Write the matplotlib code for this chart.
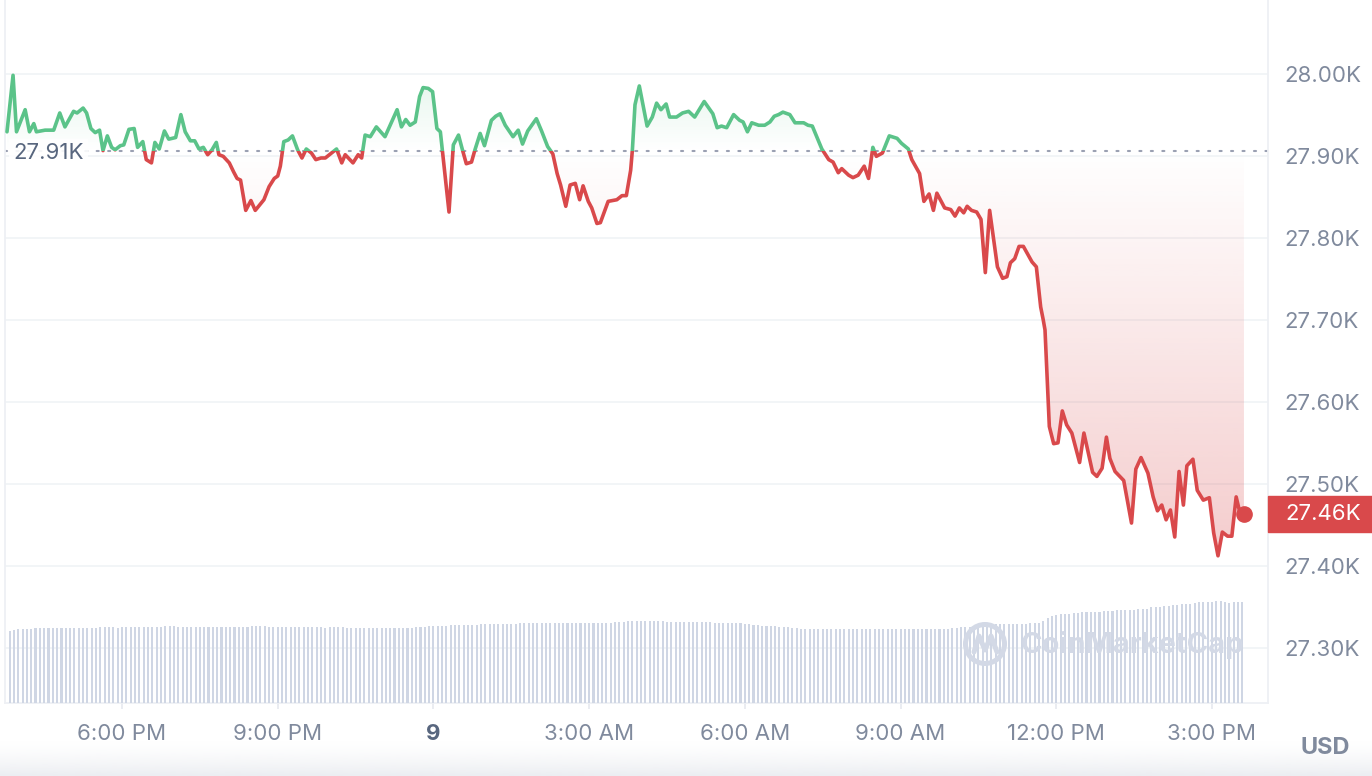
import numpy as np
import matplotlib
matplotlib.use("Agg")
import matplotlib.pyplot as plt
from matplotlib.patches import Rectangle, Circle
from matplotlib.path import Path
import matplotlib.transforms as mtransforms

plt.rcParams['font.family'] = ['Inter', 'DejaVu Sans']

# ---------------- data ----------------
# price samples: minutes since 6:00 PM (day 8) and BTC price in USD
price_minutes = [
    -133, -126, -122, -112, -107, -102, -99, -89, -79, -72,
    -66, -56, -52, -45, -41, -36, -31, -26, -22, -17,
    -12, -8, -2, 2, 8, 14, 18, 24, 28, 34,
    38, 43, 49, 54, 62, 68, 73, 79, 84, 89,
    94, 99, 104, 109, 112, 117, 124, 129, 133, 137,
    143, 149, 154, 164, 170, 176, 180, 183, 187, 192,
    197, 203, 208, 213, 219, 224, 230, 235, 248, 254,
    258, 267, 273, 277, 281, 287, 294, 304, 318, 323,
    328, 333, 339, 344, 348, 354, 359, 364, 368, 378,
    383, 389, 393, 398, 404, 408, 414, 419, 427, 432,
    437, 443, 452, 458, 463, 469, 479, 485, 492, 498,
    503, 507, 513, 518, 524, 529, 533, 539, 543, 549,
    553, 562, 572, 578, 583, 588, 590, 593, 598, 607,
    613, 618, 623, 629, 633, 641, 648, 655, 662, 673,
    683, 688, 693, 699, 707, 714, 718, 723, 728, 736,
    743, 749, 754, 759, 764, 772, 778, 788, 793, 798,
    809, 817, 822, 828, 832, 840, 845, 851, 858, 863,
    868, 872, 879, 887, 896, 901, 909, 913, 922, 927,
    933, 938, 942, 951, 958, 963, 968, 973, 977, 982,
    988, 993, 998, 1003, 1012, 1018, 1023, 1027, 1032, 1037,
    1042, 1052, 1057, 1062, 1065, 1067, 1072, 1077, 1082, 1087,
    1092, 1098, 1107, 1112, 1116, 1122, 1127, 1133, 1138, 1142,
    1148, 1158, 1167, 1172, 1178, 1186, 1192, 1197, 1202, 1207,
    1212, 1217, 1222, 1227, 1231, 1238, 1243, 1250, 1257, 1262,
    1267, 1272, 1278, 1283, 1288, 1292, 1297,
]
price_usd = [
    27930, 27999, 27930, 27957, 27930, 27940, 27930, 27932, 27932, 27953,
    27936, 27955, 27953, 27959, 27953, 27934, 27929, 27932, 27907, 27925,
    27911, 27908, 27913, 27914, 27933, 27934, 27911, 27918, 27896, 27892,
    27917, 27909, 27931, 27921, 27923, 27951, 27930, 27919, 27919, 27909,
    27911, 27902, 27908, 27917, 27902, 27900, 27892, 27881, 27873, 27871,
    27834, 27846, 27834, 27847, 27863, 27873, 27876, 27888, 27918, 27920,
    27925, 27908, 27898, 27909, 27904, 27896, 27898, 27898, 27909, 27892,
    27902, 27892, 27902, 27898, 27926, 27924, 27936, 27924, 27957, 27936,
    27945, 27938, 27942, 27973, 27984, 27983, 27979, 27934, 27930, 27832,
    27914, 27926, 27910, 27891, 27893, 27908, 27928, 27913, 27944, 27949,
    27952, 27938, 27924, 27932, 27915, 27931, 27946, 27931, 27912, 27903,
    27879, 27865, 27839, 27865, 27867, 27847, 27864, 27845, 27837, 27818,
    27819, 27845, 27847, 27852, 27852, 27883, 27908, 27963, 27986, 27937,
    27948, 27965, 27957, 27964, 27948, 27948, 27953, 27955, 27948, 27967,
    27952, 27935, 27937, 27935, 27951, 27944, 27942, 27930, 27941, 27938,
    27938, 27942, 27949, 27951, 27954, 27951, 27941, 27941, 27938, 27937,
    27909, 27896, 27893, 27880, 27885, 27877, 27874, 27877, 27888, 27873,
    27911, 27900, 27904, 27925, 27922, 27916, 27909, 27896, 27879, 27845,
    27854, 27834, 27855, 27837, 27835, 27827, 27837, 27831, 27839, 27834,
    27832, 27823, 27758, 27834, 27765, 27751, 27753, 27770, 27775, 27790,
    27790, 27771, 27765, 27716, 27700, 27688, 27570, 27549, 27550, 27589,
    27572, 27562, 27526, 27562, 27543, 27514, 27509, 27519, 27557, 27531,
    27515, 27504, 27452, 27518, 27532, 27513, 27484, 27467, 27474, 27456,
    27468, 27435, 27515, 27474, 27522, 27530, 27492, 27480, 27483, 27440,
    27412, 27441, 27436, 27436, 27484, 27466, 27463,
]
baseline_price = 27907
baseline_label = "27.91K"
last_label = "27.46K"

# 24h volume bars (billions USD), one every 5 minutes starting 130 min before 6 PM
vol_start_minute = -130
vol_step_minutes = 5
volume_bn = [
    14.4, 14.6, 14.8, 14.8, 14.9, 14.9, 15.0, 15.0, 15.0, 15.0,
    15.0, 15.0, 15.1, 15.0, 15.1, 15.1, 15.1, 15.0, 15.1, 15.1,
    15.1, 15.2, 15.2, 15.2, 15.2, 15.1, 15.2, 15.2, 15.2, 15.2,
    15.2, 15.2, 15.3, 15.3, 15.2, 15.3, 15.4, 15.4, 15.4, 15.3,
    15.2, 15.2, 15.2, 15.2, 15.2, 15.2, 15.2, 15.2, 15.2, 15.2,
    15.2, 15.2, 15.2, 15.2, 15.3, 15.3, 15.4, 15.4, 15.4, 15.4,
    15.3, 15.2, 15.2, 15.2, 15.2, 15.2, 15.2, 15.2, 15.2, 15.2,
    15.2, 15.2, 15.2, 15.1, 15.2, 15.2, 15.2, 15.2, 15.1, 15.1,
    15.1, 15.1, 15.1, 15.1, 15.1, 15.1, 15.1, 15.1, 15.1, 15.1,
    15.1, 15.1, 15.1, 15.1, 15.2, 15.3, 15.3, 15.4, 15.4, 15.5,
    15.5, 15.5, 15.6, 15.6, 15.6, 15.6, 15.7, 15.7, 15.7, 15.8,
    15.8, 15.8, 15.8, 15.9, 15.9, 15.9, 15.9, 15.9, 16.0, 16.0,
    16.0, 16.0, 16.0, 16.0, 16.0, 16.0, 16.0, 16.0, 16.0, 16.0,
    16.0, 16.0, 16.0, 16.0, 16.0, 16.0, 16.0, 16.1, 16.1, 16.1,
    16.2, 16.2, 16.3, 16.4, 16.4, 16.4, 16.4, 16.4, 16.4, 16.4,
    16.4, 16.4, 16.3, 16.3, 16.2, 16.2, 16.2, 16.2, 16.2, 16.2,
    16.2, 16.2, 16.2, 16.1, 16.1, 16.1, 16.0, 16.0, 16.0, 16.0,
    15.9, 15.8, 15.7, 15.6, 15.5, 15.5, 15.4, 15.4, 15.3, 15.3,
    15.2, 15.1, 15.0, 14.9, 14.8, 14.8, 14.8, 14.8, 14.8, 14.8,
    14.8, 14.8, 14.8, 14.8, 14.8, 14.8, 14.8, 14.8, 14.8, 14.8,
    14.8, 14.8, 14.8, 14.8, 14.8, 14.8, 14.8, 14.8, 14.8, 14.8,
    14.8, 14.8, 14.8, 14.8, 14.8, 14.8, 14.9, 14.9, 15.0, 15.1,
    15.2, 15.3, 15.3, 15.3, 15.4, 15.5, 15.6, 15.7, 15.8, 15.9,
    15.9, 15.9, 15.9, 15.9, 15.9, 15.9, 16.0, 16.0, 16.1, 16.4,
    17.1, 17.5, 17.7, 17.8, 17.9, 17.9, 18.0, 18.0, 18.2, 18.3,
    18.3, 18.3, 18.3, 18.4, 18.4, 18.5, 18.6, 18.6, 18.7, 18.7,
    18.7, 18.8, 18.8, 18.9, 19.2, 19.3, 19.3, 19.4, 19.5, 19.6,
    19.7, 19.8, 19.9, 19.9, 20.1, 20.2, 20.2, 20.3, 20.3, 20.4,
    20.4, 20.3, 20.1, 20.2, 20.2, 20.2,
]

price_ticks = [27300, 27400, 27500, 27600, 27700, 27800, 27900, 28000]
time_ticks = [0, 180, 360, 540, 720, 900, 1080, 1260]
time_labels = ["6:00 PM", "9:00 PM", "9", "3:00 AM", "6:00 AM", "9:00 AM",
               "12:00 PM", "3:00 PM"]

# ---------------- style ----------------
GREEN = "#5bc389"
RED = "#d9494b"
GRID = "#eff2f5"
TICK = "#808a9d"
DARK = "#58667e"
VOLC = "#cfd6e4"
FS = 16

W, H = 1372, 776
fig = plt.figure(figsize=(W / 100, H / 100), dpi=100)
fig.patch.set_facecolor("white")
ax = fig.add_axes([5 / W, 73 / H, 1263 / W, 703 / H])

t = np.array(price_minutes, dtype=float)
p = np.array(price_usd, dtype=float)
assert len(t) == len(p)

XMIN, XMAX = -135.3, 1324.8
YMIN, YMAX = 27232.2, 28091.0

# gridlines
for yv in price_ticks:
    ax.axhline(yv, color=GRID, lw=1.1, zorder=0)

# gradient fills
def grad_fill(up):
    if up:
        coll = ax.fill_between(t, p, baseline_price, where=p >= baseline_price,
                               interpolate=True, lw=0)
    else:
        coll = ax.fill_between(t, p, baseline_price, where=p <= baseline_price,
                               interpolate=True, lw=0)
    path = Path.make_compound_path(*coll.get_paths())
    coll.remove()
    n = 300
    img = np.zeros((n, 1, 4))
    if up:
        rgb = matplotlib.colors.to_rgb(GREEN)
        ys = np.linspace(baseline_price, YMAX, n)
        a = 0.16 * (ys - baseline_price) / 92.0
        extent = [XMIN, XMAX, baseline_price, YMAX]
    else:
        rgb = matplotlib.colors.to_rgb(RED)
        ys = np.linspace(YMIN, baseline_price, n)
        a = 0.28 * (baseline_price - ys) / 495.0
        extent = [XMIN, XMAX, YMIN, baseline_price]
    img[:, 0, 0], img[:, 0, 1], img[:, 0, 2] = rgb
    img[:, 0, 3] = np.clip(a, 0, 1)
    im = ax.imshow(img, extent=extent, origin="lower", aspect="auto",
                   interpolation="bilinear", zorder=1)
    im.set_clip_path(path, transform=ax.transData)

grad_fill(True)
grad_fill(False)

# baseline dotted line
ax.axhline(baseline_price, color="#9aa0b2", lw=1.5, ls=(0, (1, 4.5)),
           dash_capstyle="round", zorder=2)

# price line, green above / red below baseline
big = 1e5
clip_up = Rectangle((XMIN - 1000, baseline_price), big, big, transform=ax.transData)
clip_dn = Rectangle((XMIN - 1000, baseline_price - big), big, big, transform=ax.transData)
lg, = ax.plot(t, p, color=GREEN, lw=2.6, solid_joinstyle="round",
              solid_capstyle="round", zorder=3)
lg.set_clip_path(clip_up)
lr, = ax.plot(t, p, color=RED, lw=2.6, solid_joinstyle="round",
              solid_capstyle="round", zorder=3)
lr.set_clip_path(clip_dn)

# last price dot
ax.plot(t[-1], p[-1], "o", ms=11, color=RED, zorder=5, clip_on=False)

ax.set_xlim(XMIN, XMAX)
ax.set_ylim(YMIN, YMAX)

# volume bars on twin axis
ax_v = ax.twinx()
vol_x = vol_start_minute + vol_step_minutes * np.arange(len(volume_bn))
ax_v.bar(vol_x, volume_bn, width=2.4, color=VOLC, linewidth=0, zorder=1)
ax_v.set_ylim(0, 140.6)
ax_v.set_yticks([])
for s in ax_v.spines.values():
    s.set_visible(False)
ax_v.set_xlim(XMIN, XMAX)

# axes styling
ax.yaxis.tick_right()
ax.set_yticks(price_ticks)
ax.set_yticklabels([f"{v / 1000:.2f}K" for v in price_ticks])
ax.tick_params(axis="y", length=0, pad=12, labelsize=FS, labelcolor=TICK)
ax.set_xticks(time_ticks)
ax.set_xticklabels(time_labels)
ax.tick_params(axis="x", length=4.5, width=1.2, color="#e6e9ef", pad=10.5,
               labelsize=FS, labelcolor=TICK)
xl = ax.get_xticklabels()
xl[2].set_fontweight("bold")
xl[2].set_color(DARK)
ax.spines["top"].set_visible(False)
for k in ("left", "right", "bottom"):
    ax.spines[k].set_color("#eef0f4")
    ax.spines[k].set_linewidth(1.3)

# baseline label
blend_ax = mtransforms.blended_transform_factory(ax.transAxes, ax.transData)
ax.annotate(baseline_label, xy=(0, baseline_price), xycoords=blend_ax,
            xytext=(6, -2), textcoords="offset points", ha="left", va="center",
            fontsize=FS, color=DARK, zorder=6,
            bbox=dict(boxstyle="square,pad=0.2", fc="white", ec="none", alpha=0.9))

# last price tag
blend_fig = mtransforms.blended_transform_factory(fig.transFigure, ax.transData)
tag_h = 44
ax.add_patch(Rectangle((1268 / W, p[-1] - tag_h / 2), 104 / W, tag_h,
                       transform=blend_fig, color=RED, clip_on=False, zorder=6))
ax.text(1285 / W, p[-1], last_label, transform=blend_fig, ha="left", va="center",
        fontsize=FS, color="white", zorder=7, clip_on=False)

# overlay: watermark, currency, bottom fade
ov = fig.add_axes([0, 0, 1, 1], zorder=10)
ov.set_xlim(0, W)
ov.set_ylim(H, 0)
ov.axis("off")
ov.patch.set_visible(False)
ov.add_patch(Circle((985, 644), 19.5, fill=False, lw=3.6, ec="#d3d9e6"))
ov.plot([974, 979, 985, 991, 997], [652, 636, 650, 636, 652], color="#d3d9e6",
        lw=3.6, solid_joinstyle="round", solid_capstyle="round")
ov.text(1021, 645, "CoinMarketCap", fontsize=21, fontweight="bold",
        color="#d3d9e6", ha="left", va="center")
ov.text(1325, 748, "USD", fontsize=17, fontweight="bold", color=TICK,
        ha="center", va="center")
fade = np.zeros((50, 1, 4))
fade[:, 0, :3] = matplotlib.colors.to_rgb("#eceef2")
fade[:, 0, 3] = np.linspace(0, 1, 50) ** 1.5
ov.imshow(fade, extent=[0, W, 776, 740], origin="upper", aspect="auto",
          interpolation="bilinear", zorder=0)
ov.set_xlim(0, W)
ov.set_ylim(H, 0)

fig.savefig("out.png", dpi=100, facecolor="white")
